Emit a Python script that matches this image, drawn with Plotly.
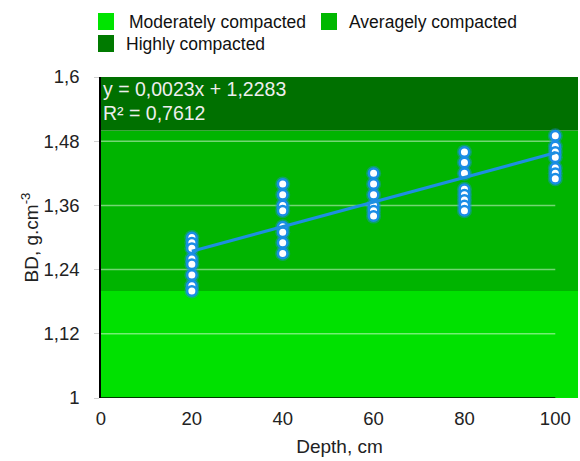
import plotly.graph_objects as go

# Bulk density (g/cm3) measured at each sampling depth (cm)
depths = [20, 40, 60, 80, 100]
bd_20 = [1.30, 1.29, 1.28, 1.26, 1.25, 1.23, 1.21, 1.20]
bd_40 = [1.40, 1.38, 1.36, 1.35, 1.32, 1.31, 1.29, 1.27]
bd_60 = [1.42, 1.40, 1.38, 1.36, 1.35, 1.34]
bd_80 = [1.46, 1.44, 1.42, 1.39, 1.38, 1.37, 1.36, 1.35]
bd_100 = [1.49, 1.47, 1.46, 1.45, 1.43, 1.42, 1.41]
bd_by_depth = [bd_20, bd_40, bd_60, bd_80, bd_100]

# Linear trend reported on the chart
slope = 0.0023
intercept = 1.2283
r_squared = 0.7612
trend_x = [20, 100]

# Compaction classes (BD bands)
band_names = ["Moderately compacted", "Averagely compacted", "Highly compacted"]
band_lower = [1.0, 1.2, 1.5]
band_upper = [1.2, 1.5, 1.6]
band_colors = ["#00e100", "#00b400", "#007000"]
legend_colors = ["#00e400", "#00b800", "#007a00"]

y_ticks = [1.0, 1.12, 1.24, 1.36, 1.48, 1.6]
y_tick_text = ["1", "1,12", "1,24", "1,36", "1,48", "1,6"]
x_ticks = [0, 20, 40, 60, 80, 100]

W, H = 580, 461
L, R, T, B = 101, 2, 77, 63
X_MAX = 105
FONT = "Liberation Sans, Arial, Helvetica, sans-serif"


def px_to_paper_x(px):
    return (px - L) / (W - L - R)


def px_to_paper_y(py):
    return (H - B - py) / (H - T - B)


xs, ys = [], []
for d, vals in zip(depths, bd_by_depth):
    xs.extend([d] * len(vals))
    ys.extend(vals)

fig = go.Figure()

# soft blue halo behind the points
fig.add_trace(go.Scatter(
    x=xs, y=ys, mode="markers", hoverinfo="skip", showlegend=False,
    marker=dict(size=15, color="rgba(30,140,235,0.4)", line=dict(width=0)),
))
fig.add_trace(go.Scatter(
    x=xs, y=ys, mode="markers", showlegend=False, name="BD",
    marker=dict(size=9.5, color="white", line=dict(width=2.5, color="#1a8de6")),
))
trend_y = [intercept + slope * x for x in trend_x]
fig.add_trace(go.Scatter(
    x=trend_x, y=trend_y, mode="lines", showlegend=False, name="Trend",
    line=dict(color="#1e8fe0", width=3),
))

shapes = []
for lo, hi, col in zip(band_lower, band_upper, band_colors):
    shapes.append(dict(type="rect", xref="x", yref="y", x0=0, x1=X_MAX, y0=lo, y1=hi,
                       fillcolor=col, line=dict(width=0), layer="below"))
for v in y_ticks[1:-1]:
    shapes.append(dict(type="line", xref="x", yref="y", x0=0, x1=100, y0=v, y1=v,
                       line=dict(color="rgba(255,255,255,0.45)", width=1.5), layer="below"))
# bottom axis line spanning the data range only
shapes.append(dict(type="line", xref="x", yref="y", x0=0, x1=100, y0=1.0, y1=1.0,
                   line=dict(color="black", width=1.5)))

# legend boxes
legend_items = [
    (98, 13, 127, 22),
    (321, 13, 347, 22),
    (98, 35, 124, 44),
]
annotations = []
for name, col, (sx, sy, tx, ty) in zip(band_names, legend_colors, legend_items):
    shapes.append(dict(type="rect", xref="paper", yref="paper",
                       x0=px_to_paper_x(sx), x1=px_to_paper_x(sx + 16),
                       y0=px_to_paper_y(sy + 17), y1=px_to_paper_y(sy),
                       fillcolor=col, line=dict(width=0)))
    annotations.append(dict(xref="paper", yref="paper", x=px_to_paper_x(tx), y=px_to_paper_y(ty),
                            xanchor="left", yanchor="middle", showarrow=False, text=name,
                            font=dict(family=FONT, size=17.5, color="#111111")))

eq_text = "y = {:.4f}x + {:.4f}".format(slope, intercept).replace(".", ",")
r2_text = "R² = {:.4f}".format(r_squared).replace(".", ",")
for txt, cy in [(eq_text, 89), (r2_text, 113)]:
    annotations.append(dict(xref="paper", yref="paper", x=px_to_paper_x(101), y=px_to_paper_y(cy),
                            xanchor="left", yanchor="middle", showarrow=False, text=txt,
                            font=dict(family=FONT, size=19.5, color="#eeeeee")))

fig.update_layout(
    width=W, height=H,
    margin=dict(l=L, r=R, t=T, b=B, pad=0),
    paper_bgcolor="white", plot_bgcolor="white",
    font=dict(family=FONT, size=18.5, color="#222222"),
    shapes=shapes, annotations=annotations,
    xaxis=dict(range=[0, X_MAX], tickvals=x_ticks, showgrid=False, zeroline=False,
               showline=False, ticks="", ticklabelstandoff=7,
               title=dict(text="Depth, cm", font=dict(size=19), standoff=12)),
    yaxis=dict(range=[1.0, 1.6], tickvals=y_ticks, ticktext=y_tick_text, showgrid=False,
               zeroline=False, showline=True, linecolor="black", linewidth=1.5,
               ticks="outside", ticklen=5, tickcolor="#d0d0d0", ticklabelstandoff=11,
               title=dict(text="BD, g.cm<sup>-3</sup>", font=dict(size=19), standoff=0)),
)

fig.write_html("out.html")
